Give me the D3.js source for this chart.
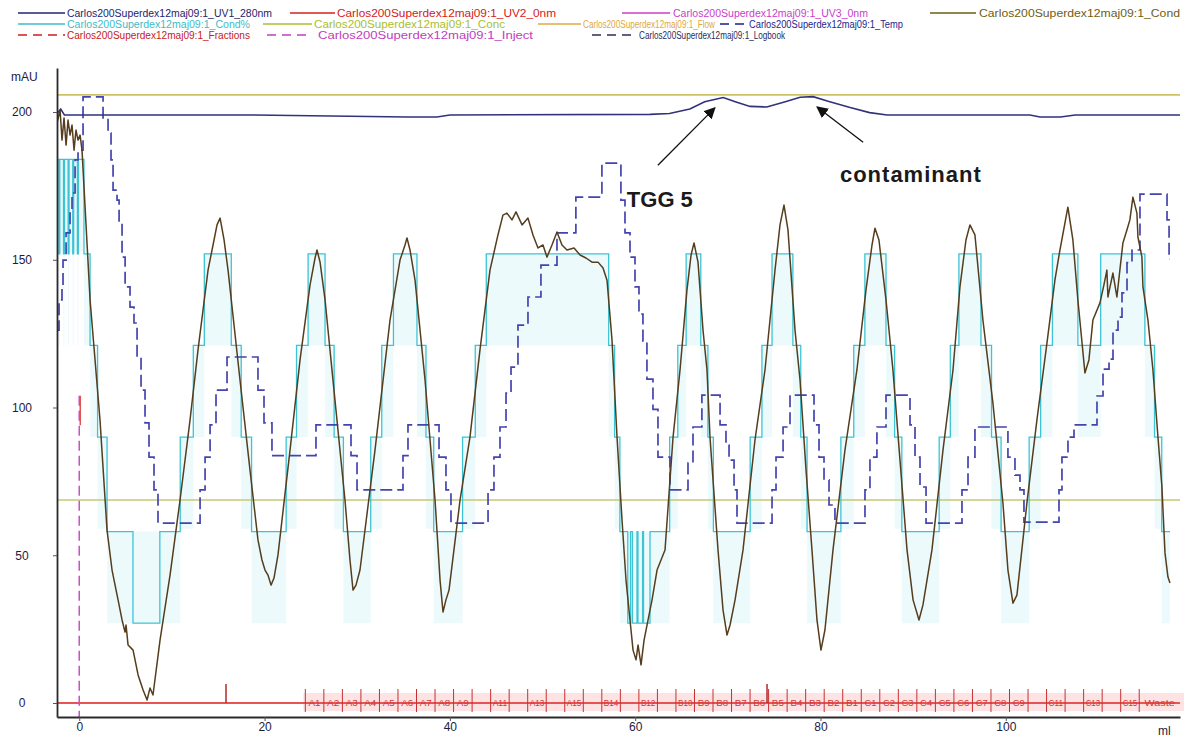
<!DOCTYPE html>
<html>
<head>
<meta charset="utf-8">
<title>Carlos200Superdex12maj09:1</title>
<script src="https://cdn.jsdelivr.net/npm/d3@7"></script>
<style>
    body {
        margin: 0;
        background: #fff;
        font-family: "Liberation Sans", Arial, sans-serif;
    }
</style>
</head>
<body>
<svg id="chart" width="1190" height="737"></svg>
<script>
    // ---- data (ml, mAU) ----
    const condPoints = [
        [-2.40,196.3],[-2.07,200.7],[-1.86,190.5],[-1.64,198.0],[-1.42,188.8],[-1.21,197.3],[-0.99,192.2],
        [-0.78,195.6],[-0.56,187.1],[-0.35,193.9],[-0.13,190.5],[0.09,192.2],[0.30,187.1],[1.17,136.4],
        [2.24,95.8],[3.00,58.5],[3.54,45.0],[4.19,34.9],[4.62,28.1],[4.94,24.0],[5.05,26.4],[5.27,19.6],
        [5.81,17.9],[6.35,9.5],[6.89,4.4],[7.32,1.0],[7.64,5.1],[7.96,2.7],[8.72,21.3],[9.80,43.3],
        [10.88,68.7],[11.96,95.8],[12.82,119.5],[13.36,133.0],[13.90,146.5],[14.44,155.0],[14.87,161.8],
        [15.20,164.1],[15.63,156.7],[16.06,146.5],[17.35,109.3],[18.43,78.8],[19.29,55.2],[19.72,48.4],
        [20.05,45.0],[20.37,43.3],[20.70,39.9],[21.02,42.3],[21.45,50.1],[22.75,85.6],[23.83,116.1],
        [24.91,141.5],[25.45,150.6],[25.66,153.3],[25.99,149.2],[26.53,136.4],[27.60,102.5],[28.68,68.7],
        [29.22,48.4],[29.55,38.2],[29.87,39.9],[30.30,45.0],[31.92,85.6],[33.54,129.6],[34.62,149.9],
        [35.16,155.0],[35.37,157.4],[35.70,153.3],[36.24,143.1],[37.32,109.3],[38.40,68.7],[38.94,41.6],
        [39.26,30.8],[39.58,34.9],[39.91,38.2],[41.10,68.7],[42.17,90.0],[43.25,119.5],[44.33,146.5],
        [45.19,158.4],[45.73,165.1],[46.16,165.8],[46.70,163.5],[47.14,166.2],[47.79,161.8],[48.43,164.1],
        [48.97,158.4],[49.51,154.0],[50.05,155.0],[50.48,150.9],[51.02,155.0],[51.56,159.4],[52.10,155.0],
        [52.64,153.3],[53.40,154.0],[54.05,151.6],[54.69,150.6],[55.34,149.2],[55.99,149.2],[56.53,147.2],
        [56.96,143.1],[57.50,122.8],[58.04,90.0],[58.58,61.9],[59.01,41.6],[59.44,28.1],[59.77,17.9],
        [60.09,14.6],[60.31,19.6],[60.63,12.9],[60.96,21.3],[61.39,28.1],[61.82,34.9],[62.36,45.0],
        [63.22,51.8],[64.08,89.7],[64.84,112.7],[65.59,139.8],[66.03,151.6],[66.35,155.7],[66.78,149.2],
        [67.32,126.2],[67.75,112.7],[68.08,89.7],[68.94,51.8],[69.48,31.5],[69.91,23.0],[70.24,26.4],
        [70.78,34.9],[71.64,51.8],[72.93,89.0],[74.01,112.7],[75.09,146.5],[75.63,161.8],[76.06,168.5],
        [76.49,160.1],[77.25,126.2],[77.79,109.3],[78.44,78.8],[79.08,51.8],[79.62,28.1],[80.05,17.9],
        [80.48,24.7],[81.35,51.8],[82.64,85.6],[83.93,112.7],[84.91,139.8],[85.56,155.0],[85.88,160.7],
        [86.31,156.7],[87.07,136.4],[87.82,112.7],[88.58,82.2],[89.34,51.8],[89.99,34.9],[90.63,28.1],
        [91.06,33.2],[92.03,51.8],[93.22,85.6],[94.30,112.7],[95.05,140.8],[95.70,156.7],[96.13,161.8],
        [96.67,158.4],[97.53,129.6],[98.61,101.5],[99.69,67.7],[100.23,45.0],[100.77,33.8],[101.20,36.5],
        [102.28,67.7],[103.36,95.8],[104.44,121.8],[105.30,143.1],[105.84,153.3],[106.70,167.8],[107.24,156.7],
        [107.78,136.4],[108.54,111.7],[108.97,116.1],[109.40,129.6],[110.16,135.4],[110.59,141.5],[110.91,146.5],
        [111.02,137.4],[111.56,145.5],[111.99,137.4],[112.31,146.5],[112.64,155.7],[113.07,160.1],[113.39,163.5],
        [113.72,171.2],[114.15,165.8],[114.26,157.7],[114.69,150.9],[114.80,140.8],[115.34,129.6],[115.88,112.7],
        [116.42,90.0],[116.85,73.1],[117.18,50.8],[117.50,42.6],[117.72,40.6]
    ];

    // Cond% trace: step changes (ml, level)
    const condPctSteps = [
        [-2.40,184],[-2.2,152],[-2.1,184],[-1.7,152],[-1.6,184],[-1.2,152],[-1.1,184],[-0.7,152],[-0.6,184],
        [-0.2,152],[-0.1,184],[0.51,152],[1.17,121],[1.98,90],[3.0,58],[5.8,27],[8.7,58],[10.9,90],
        [12.31,121],[13.50,152],[16.41,121],[17.48,90],[18.60,58],[22.33,90],[23.45,121],[24.70,152],
        [26.53,121],[27.51,90],[28.51,58],[31.46,90],[32.65,121],[33.91,152],[36.45,121],[37.42,90],
        [38.26,58],[41.37,90],[42.74,121],[43.93,152],[57.14,121],[57.78,90],[58.35,58],[59.2,27],
        [59.5,58],[59.7,27],[60.2,58],[60.3,27],[60.8,58],[60.9,27],[61.6,58],[63.72,90],[64.60,121],
        [65.50,152],[67.08,121],[67.85,90],[68.44,58],[72.41,90],[73.68,121],[74.77,152],[77.02,121],
        [77.87,90],[78.55,58],[82.20,90],[83.59,121],[84.79,152],[87.07,121],[88.00,90],[88.78,58],
        [92.81,90],[94.01,121],[94.94,152],[97.32,121],[98.46,90],[99.49,58],[102.52,90],[103.76,121],
        [105.03,152],[107.78,121],[110.24,152],[115.01,121],[116.05,90],[116.83,58],[117.72,58]
    ];

    // Temp trace: step changes (ml, value)
    const tempSteps = [
        [-2.40,126.2],[-2.18,136.4],[-1.86,140.8],[-1.75,149.9],[-1.42,159.1],[-0.99,165.8],[-0.78,172.6],
        [-0.45,183.8],[-0.13,187.1],[0.41,205.1],[2.57,198.0],[3.11,192.9],[3.43,183.8],[3.65,173.6],
        [4.08,170.2],[4.30,162.4],[4.62,150.9],[4.95,140.8],[5.48,134.0],[5.91,128.6],[6.24,117.1],
        [6.67,105.9],[7.10,94.8],[7.53,83.2],[8.07,72.1],[8.50,60.9],[13.04,72.1],[13.58,83.2],
        [14.12,94.1],[14.76,105.9],[15.95,117.1],[19.29,105.9],[19.94,94.8],[20.80,83.7],[25.55,94.1],
        [29.33,83.7],[29.98,72.1],[34.94,83.7],[35.48,94.1],[38.83,83.2],[39.58,72.1],[40.12,60.9],
        [44.12,72.1],[44.76,83.2],[45.41,93.4],[46.06,104.9],[46.60,113.7],[47.35,127.9],[48.43,137.4],
        [49.83,148.2],[51.56,159.1],[53.60,171.2],[56.41,182.7],[58.46,170.2],[58.90,159.1],[59.44,150.9],
        [59.98,140.8],[60.41,131.6],[60.84,122.5],[61.27,109.6],[61.92,99.4],[62.46,83.2],[63.76,72.1],
        [65.70,81.2],[66.24,93.4],[67.20,104.2],[69.16,94.1],[69.80,87.3],[70.13,82.2],[70.67,72.1],
        [70.99,60.9],[74.77,72.1],[75.20,83.2],[75.96,93.4],[76.71,104.2],[79.30,94.1],[79.84,83.2],
        [80.38,75.5],[80.92,67.0],[81.56,60.9],[84.80,72.1],[85.34,83.2],[86.09,93.4],[87.07,104.2],
        [89.66,94.1],[90.20,83.2],[90.74,73.1],[91.39,60.9],[95.27,72.1],[95.92,83.2],[96.67,93.4],
        [100.23,83.2],[100.99,77.1],[101.53,72.1],[101.96,61.2],[105.74,72.1],[106.06,83.2],[106.71,90.0],
        [107.36,94.1],[109.84,103.9],[110.49,113.0],[111.14,116.4],[111.57,126.2],[112.11,130.6],
        [112.54,138.8],[113.08,149.0],[113.62,153.3],[114.48,172.2],[117.40,163.5],[117.62,150.2],[117.72,150.2]
    ];

    const uv1Points = [
        [-2.40,199.5],[-2.0,201],[-1.6,199],[0.41,199],[18.4,199],[35.4,198.3],[38.6,198.3],[40.0,199],
        [61.6,199.2],[63.7,199.5],[65.9,201],[67.5,203.5],[69.5,204.9],[70.8,203.5],[72.4,201.9],
        [74.2,201.7],[76.2,203.5],[77.8,205],[79.2,205.2],[81.0,203.5],[83.2,201.5],[85.3,199.8],
        [87.2,199],[102.6,199],[103.7,198.3],[105.9,198.3],[107.5,199],[118.8,199]
    ];

    const flowLevel = 205.8;
    const concLevel = 68.7;
    const runRange = [-2.4, 118.8];

    const fracNames = ["A1","A2","A3","A4","A5","A6","A7","A8","A9","A10","A11","A12","A13","A14","A15",
        "B15","B14","B13","B12","B11","B10","B9","B8","B7","B6","B5","B4","B3","B2","B1",
        "C1","C2","C3","C4","C5","C6","C7","C8","C9","C10","C11","C12","C13","C14","C15","Waste"];
    const fracLabelShown = [1,1,1,1,1,1,1,1,1,0,1,0,1,0,1, 0,1,0,1,0,1,1,1,1,1,1,1,1,1,1,
        1,1,1,1,1,1,1,1,1,0,1,0,1,0,1,1];
    const fracBounds = [24.4,26.4,28.4,30.4,32.4,34.4,36.4,38.4,40.4,42.4,44.4,46.4,48.4,50.4,52.4,
        54.4,56.4,58.4,60.4,62.4,64.4,66.4,68.4,70.4,72.4,74.4,76.4,78.4,80.4,82.4,
        84.4,86.4,88.4,90.4,92.4,94.4,96.4,98.4,100.4,102.4,104.4,106.4,108.4,110.4,112.4,114.4,118.8];

    const injectAt = [0];
    const logbookAt = [15.84, 74.23];

    const xTicks = [0, 20, 40, 60, 80, 100];
    const yTicks = [0, 50, 100, 150, 200];

    const legendNames = [
        "Carlos200Superdex12maj09:1_UV1_280nm", "Carlos200Superdex12maj09:1_UV2_0nm",
        "Carlos200Superdex12maj09:1_UV3_0nm", "Carlos200Superdex12maj09:1_Cond",
        "Carlos200Superdex12maj09:1_Cond%", "Carlos200Superdex12maj09:1_Conc",
        "Carlos200Superdex12maj09:1_Flow", "Carlos200Superdex12maj09:1_Temp",
        "Carlos200Superdex12maj09:1_Fractions", "Carlos200Superdex12maj09:1_Inject",
        "Carlos200Superdex12maj09:1_Logbook"
    ];

    const notes = [
        { text: "TGG 5", at: [59.1, 167.8], from: [62.45, 182], to: [68.6, 201.4] },
        { text: "contaminant", at: [82.1, 176.3], from: [84.6, 189.8], to: [79.63, 201.7] }
    ];

    // ---- styles ----
    const legendColors = ["#24246e", "#d42020", "#cc3ccc", "#6e5e14", "#3cbcc8", "#a8c030",
        "#e0a840", "#1e1e8c", "#c82020", "#c040c0", "#2c2c5c"];
    const legendDash = [null, null, null, null, null, null, null, "9,6", "9,6", "9,6", "9,6"];
    // [row y, line x1, line x2, text x1, text x2]
    const legendLayout = [
        [13, 18, 65, 67, 272], [13, 290, 335, 337, 556], [13, 622, 670, 673, 868], [13, 930, 976, 979, 1180],
        [24, 18, 65, 67, 250], [24, 263, 312, 314, 505], [24, 538, 581, 583, 715], [24, 720, 747, 749, 903],
        [35, 18, 65, 67, 250], [35, 267, 312, 318, 533], [35, 592, 636, 639, 785]
    ];

    const svg = d3.select("#chart");

    const x = d3.scaleLinear().domain(runRange).range([57, 1180]);
    const y = d3.scaleLinear().domain([-4.74, 214.9]).range([717, 68]);

    svg.append("defs").append("clipPath").attr("id", "plot")
        .append("rect").attr("x", 57).attr("y", 66).attr("width", 1133).attr("height", 652);

    const plot = svg.append("g").attr("clip-path", "url(#plot)");

    // faint tint inside the Cond% steps
    plot.append("path")
        .datum(condPctSteps)
        .attr("fill", "#c4eef6")
        .attr("opacity", 0.3)
        .attr("d", d3.area().curve(d3.curveStepAfter)
            .x(d => x(d[0]))
            .y0(d => y(d[1] > 30 ? d[1] - 31 : d[1] + 31))
            .y1(d => y(d[1])));

    // constant traces
    plot.append("line")
        .attr("x1", x(runRange[0])).attr("x2", x(runRange[1]))
        .attr("y1", y(flowLevel)).attr("y2", y(flowLevel))
        .attr("stroke", "#cfc266").attr("stroke-width", 1.6);
    plot.append("line")
        .attr("x1", x(runRange[0])).attr("x2", x(runRange[1]))
        .attr("y1", y(concLevel)).attr("y2", y(concLevel))
        .attr("stroke", "#c6c874").attr("stroke-width", 1.3);

    const stepLine = d3.line().curve(d3.curveStepAfter).x(d => x(d[0])).y(d => y(d[1]));
    const line = d3.line().x(d => x(d[0])).y(d => y(d[1]));

    plot.append("path").datum(condPctSteps)
        .attr("fill", "none").attr("stroke", "#3cc4d4").attr("stroke-width", 1.3)
        .attr("d", stepLine);

    plot.append("path").datum(tempSteps)
        .attr("fill", "none").attr("stroke", "#4444b0").attr("stroke-width", 1.7)
        .attr("stroke-dasharray", "12,5")
        .attr("d", stepLine);

    plot.append("path").datum(uv1Points)
        .attr("fill", "none").attr("stroke", "#32327c").attr("stroke-width", 1.6)
        .attr("d", line);

    plot.append("path").datum(condPoints)
        .attr("fill", "none").attr("stroke", "#553d1e").attr("stroke-width", 1.5)
        .attr("stroke-linejoin", "round")
        .attr("d", line);

    // fractions
    const fr = svg.append("g");
    fr.append("rect")
        .attr("x", x(fracBounds[0]) - 2).attr("y", y(0) - 10)
        .attr("width", x(fracBounds[fracBounds.length - 1]) - x(fracBounds[0]) + 6)
        .attr("height", 18).attr("fill", "#fde3e3");
    fr.append("line")
        .attr("x1", x(runRange[0])).attr("x2", x(runRange[1]))
        .attr("y1", y(0)).attr("y2", y(0))
        .attr("stroke", "#e85454").attr("stroke-width", 2);
    fr.selectAll(".ftick").data(fracBounds.slice(0, -1)).enter().append("line")
        .attr("x1", d => x(d)).attr("x2", d => x(d))
        .attr("y1", y(0) - 14).attr("y2", y(0) + 9)
        .attr("stroke", "#c83030").attr("stroke-width", 1);
    fr.selectAll(".flabel").data(fracNames).enter().append("text")
        .filter((d, i) => fracLabelShown[i])
        .attr("x", d => {
            const i = fracNames.indexOf(d);
            return (x(fracBounds[i]) + x(fracBounds[i + 1])) / 2;
        })
        .attr("y", y(0) + 3)
        .attr("text-anchor", "middle")
        .attr("font-size", 9)
        .attr("fill", "#d03838")
        .attr("textLength", d => {
            const i = fracNames.indexOf(d);
            return Math.min(x(fracBounds[i + 1]) - x(fracBounds[i]) - 4, d.length * 6);
        })
        .attr("lengthAdjust", "spacingAndGlyphs")
        .text(d => d);

    // inject and logbook marks
    fr.selectAll(".inj").data(injectAt).enter().append("line")
        .attr("x1", d => x(d)).attr("x2", d => x(d))
        .attr("y1", y(104)).attr("y2", 717)
        .attr("stroke", "#c850c8").attr("stroke-width", 1.5)
        .attr("stroke-dasharray", "10,5");
    fr.selectAll(".injtop").data(injectAt).enter().append("line")
        .attr("x1", d => x(d) + 1).attr("x2", d => x(d) + 1)
        .attr("y1", y(104)).attr("y2", y(94))
        .attr("stroke", "#e05050").attr("stroke-width", 1.5);
    fr.selectAll(".log").data(logbookAt).enter().append("line")
        .attr("x1", d => x(d)).attr("x2", d => x(d))
        .attr("y1", y(0)).attr("y2", y(0) - 19)
        .attr("stroke", "#b02a2a").attr("stroke-width", 1.5);

    // axes
    const yAxis = svg.append("g").attr("transform", "translate(57,0)")
        .call(d3.axisLeft(y).tickValues(yTicks).tickSize(4).tickSizeOuter(0).tickFormat(d3.format("d")));
    yAxis.select(".domain").attr("stroke", "#2a2a2a").attr("stroke-width", 1.8);
    yAxis.selectAll(".tick line").attr("stroke", "#555");
    yAxis.selectAll("text").attr("x", -35).attr("text-anchor", "middle")
        .attr("font-size", 12).attr("fill", "#1c1c40")
        .attr("font-family", "Liberation Sans, Arial, sans-serif");

    const xAxis = svg.append("g").attr("transform", "translate(0,717)")
        .call(d3.axisBottom(x).tickValues(xTicks).tickSize(4).tickSizeOuter(0));
    xAxis.select(".domain").attr("stroke", "#2a2a2a").attr("stroke-width", 1.8);
    xAxis.selectAll(".tick line").attr("stroke", "#555");
    xAxis.selectAll("text").attr("font-size", 12).attr("fill", "#1c1c40")
        .attr("font-family", "Liberation Sans, Arial, sans-serif").attr("dy", "0.55em");

    svg.append("text").attr("x", 11).attr("y", 81).attr("font-size", 12)
        .attr("fill", "#1c1c40").text("mAU");
    svg.append("text").attr("x", 1158).attr("y", 735).attr("font-size", 12)
        .attr("fill", "#1c1c40").text("ml");

    // legend
    const lg = svg.append("g").attr("font-size", 10);
    legendNames.forEach((name, i) => {
        const [ly, lx1, lx2, tx1, tx2] = legendLayout[i];
        lg.append("line")
            .attr("x1", lx1).attr("x2", lx2).attr("y1", ly).attr("y2", ly)
            .attr("stroke", legendColors[i]).attr("stroke-width", 1.3)
            .attr("stroke-dasharray", legendDash[i]);
        lg.append("text")
            .attr("x", tx1).attr("y", ly + 3.5)
            .attr("fill", legendColors[i])
            .attr("textLength", tx2 - tx1)
            .attr("lengthAdjust", "spacingAndGlyphs")
            .text(name);
    });

    // annotations
    svg.select("defs").append("marker")
        .attr("id", "arrow").attr("viewBox", "0 0 10 10")
        .attr("refX", 9).attr("refY", 5)
        .attr("markerWidth", 9).attr("markerHeight", 9)
        .attr("orient", "auto")
        .append("path").attr("d", "M0,0L10,5L0,10z").attr("fill", "#111");

    const ann = svg.append("g");
    ann.selectAll("line").data(notes).enter().append("line")
        .attr("x1", d => x(d.from[0])).attr("y1", d => y(d.from[1]))
        .attr("x2", d => x(d.to[0])).attr("y2", d => y(d.to[1]))
        .attr("stroke", "#111").attr("stroke-width", 1.3)
        .attr("marker-end", "url(#arrow)");
    ann.selectAll("text").data(notes).enter().append("text")
        .attr("x", d => x(d.at[0])).attr("y", d => y(d.at[1]))
        .attr("font-size", 22).attr("font-weight", "bold")
        .attr("fill", "#1a1a1a")
        .attr("letter-spacing", d => d.text === "contaminant" ? 1 : 0)
        .text(d => d.text);
</script>
</body>
</html>
